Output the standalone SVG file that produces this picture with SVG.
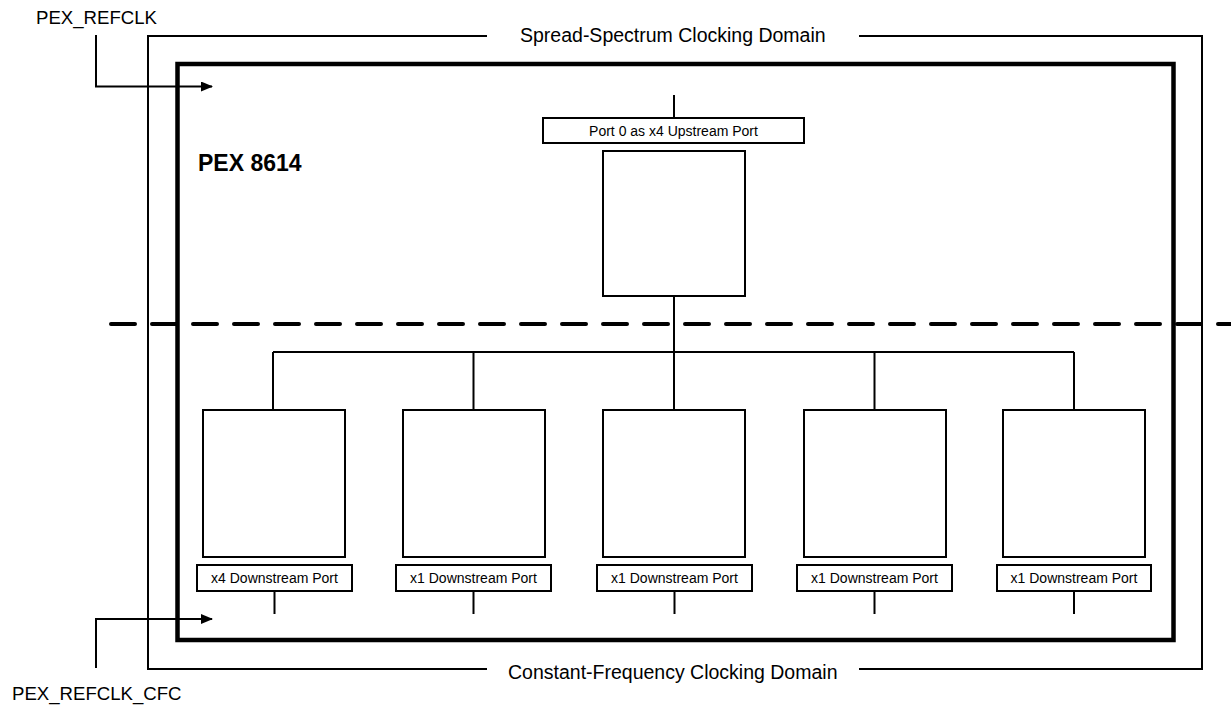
<svg xmlns="http://www.w3.org/2000/svg" width="1231" height="707" viewBox="0 0 1231 707">
<style>
text{font-family:"Liberation Sans",Arial,sans-serif;fill:#000}
.t{font-size:19.5px}
.sig{font-size:18.6px}
.lbl{font-size:14px}
.ln{stroke:#000;stroke-width:2;fill:none}
.box{stroke:#000;stroke-width:2;fill:#fff}
</style>
<defs>
<marker id="ah" markerWidth="12" markerHeight="10" refX="11" refY="5" orient="auto" markerUnits="userSpaceOnUse">
<path d="M0,0 L12,5 L0,10 Z" fill="#000"/>
</marker>
</defs>
<rect width="1231" height="707" fill="#fff"/>
<g id="domains">
<path class="ln" d="M487,36 H148 V669 H487 M859,669 H1202 V36 H859"/>
<text class="t" x="520" y="42">Spread-Spectrum Clocking Domain</text>
<text class="t" x="508" y="679">Constant-Frequency Clocking Domain</text>
</g>
<g id="chip">
<rect x="177.5" y="64" width="996" height="576" fill="none" stroke="#000" stroke-width="4.5"/>
<text x="198" y="171" font-size="23" font-weight="bold">PEX 8614</text>
</g>
<line id="divider" x1="111" y1="324" x2="1240" y2="324" stroke="#000" stroke-width="4" stroke-linecap="round" stroke-dasharray="24 17"/>
<g id="clock-inputs">
<text class="sig" x="36" y="24">PEX_REFCLK</text>
<path class="ln" d="M96,35 V86.5 H212" stroke-width="1.5" marker-end="url(#ah)"/>
<text class="sig" x="12" y="700">PEX_REFCLK_CFC</text>
<path class="ln" d="M96,668 V619 H212" stroke-width="1.5" marker-end="url(#ah)"/>
</g>
<g id="connectors">
<path class="ln" d="M674,95 V118 M674,296 V352 M273,352 H1074 M273,352 V410 M473.5,352 V410 M674,352 V410 M874.5,352 V410 M1074,352 V410"/>
<path class="ln" d="M274.5,591 V614 M473.5,591 V614 M674.5,591 V614 M874.5,591 V614 M1074,591 V614"/>
</g>
<g id="upstream">
<rect class="box" x="543" y="118" width="261" height="25" stroke-width="1.5"/>
<text class="lbl" x="673.5" y="136" text-anchor="middle">Port 0 as x4 Upstream Port</text>
<rect class="box" x="603" y="151" width="142" height="145"/>
</g>
<g id="ds0">
<rect class="box" x="203" y="410" width="142" height="147"/>
<rect class="box" x="197" y="565" width="155" height="26" stroke-width="1.5"/>
<text class="lbl" x="274.5" y="583" text-anchor="middle">x4 Downstream Port</text>
</g>
<g id="ds1">
<rect class="box" x="403" y="410" width="142" height="147"/>
<rect class="box" x="396" y="565" width="155" height="26" stroke-width="1.5"/>
<text class="lbl" x="473.5" y="583" text-anchor="middle">x1 Downstream Port</text>
</g>
<g id="ds2">
<rect class="box" x="603" y="410" width="142" height="147"/>
<rect class="box" x="597" y="565" width="155" height="26" stroke-width="1.5"/>
<text class="lbl" x="674.5" y="583" text-anchor="middle">x1 Downstream Port</text>
</g>
<g id="ds3">
<rect class="box" x="804" y="410" width="142" height="147"/>
<rect class="box" x="797" y="565" width="155" height="26" stroke-width="1.5"/>
<text class="lbl" x="874.5" y="583" text-anchor="middle">x1 Downstream Port</text>
</g>
<g id="ds4">
<rect class="box" x="1003" y="410" width="142" height="147"/>
<rect class="box" x="997" y="565" width="154" height="26" stroke-width="1.5"/>
<text class="lbl" x="1074" y="583" text-anchor="middle">x1 Downstream Port</text>
</g>
</svg>
